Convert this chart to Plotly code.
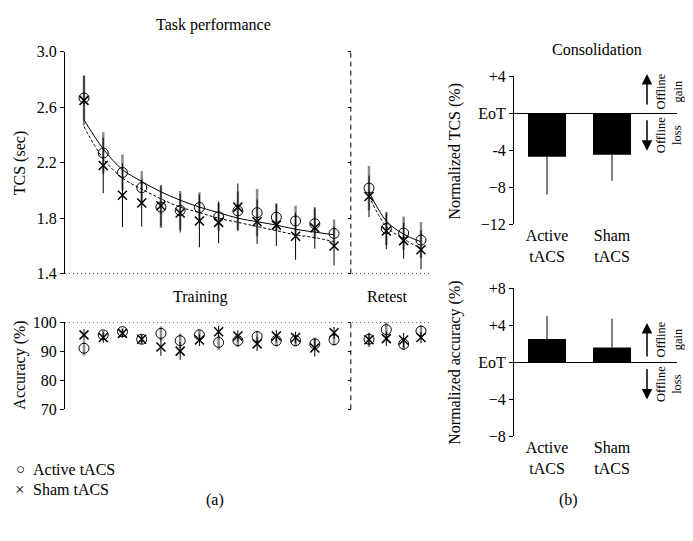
import plotly.graph_objects as go

W, H = 693, 541
OFF = 8  # page body margin: the figure is drawn 8 px right and down
def fx(p):
    return (p - OFF) / W
def fy(p):
    return 1 - (p - OFF) / H

FONT = "Liberation Serif"

# ---------------- data ----------------
train_blocks = list(range(1, 15))
retest_blocks = [1, 2, 3, 4]

tcs_active_train = [2.667, 2.27, 2.13, 2.02, 1.88, 1.856, 1.877, 1.81, 1.853, 1.84, 1.807, 1.78, 1.76, 1.69]
tcs_active_train_err = [0.16, 0.15, 0.13, 0.12, 0.15, 0.14, 0.11, 0.10, 0.14, 0.17, 0.10, 0.11, 0.11, 0.10]
tcs_sham_train = [2.65, 2.18, 1.965, 1.91, 1.89, 1.837, 1.78, 1.77, 1.88, 1.775, 1.75, 1.67, 1.73, 1.60]
tcs_sham_train_err = [0.18, 0.20, 0.23, 0.17, 0.15, 0.14, 0.19, 0.15, 0.17, 0.16, 0.15, 0.17, 0.15, 0.14]

fit_active_train = [2.51, 2.30, 2.15, 2.065, 1.99, 1.93, 1.88, 1.84, 1.80, 1.775, 1.75, 1.72, 1.70, 1.68]
fit_sham_train = [2.46, 2.23, 2.09, 2.01, 1.94, 1.88, 1.84, 1.80, 1.77, 1.74, 1.71, 1.68, 1.66, 1.63]

tcs_active_retest = [2.017, 1.726, 1.693, 1.642]
tcs_active_retest_err = [0.16, 0.12, 0.12, 0.13]
tcs_sham_retest = [1.957, 1.707, 1.638, 1.572]
tcs_sham_retest_err = [0.15, 0.13, 0.13, 0.14]
fit_active_retest = [1.99, 1.78, 1.685, 1.63]
fit_sham_retest = [1.96, 1.74, 1.65, 1.58]

acc_active_train = [91.0, 95.6, 96.7, 94.1, 96.1, 93.6, 95.6, 93.0, 93.6, 95.0, 93.6, 93.6, 92.5, 93.9]
acc_active_train_err = [2.5, 1.5, 1.2, 1.5, 2.5, 2.5, 1.8, 2.5, 2.2, 2.0, 2.0, 2.0, 2.2, 2.0]
acc_sham_train = [95.6, 94.7, 96.1, 94.1, 91.4, 90.0, 93.8, 96.7, 95.2, 92.5, 95.2, 94.7, 91.1, 96.3]
acc_sham_train_err = [2.0, 1.8, 1.5, 1.5, 3.0, 3.0, 2.0, 2.0, 2.0, 2.5, 2.0, 2.0, 3.0, 2.0]

acc_active_retest = [94.1, 97.4, 92.4, 96.9]
acc_active_retest_err = [2.0, 2.5, 2.0, 2.0]
acc_sham_retest = [93.9, 94.3, 93.8, 94.7]
acc_sham_retest_err = [2.5, 2.5, 2.5, 2.0]

groups = ["Active<br>tACS", "Sham<br>tACS"]
tcs_consol = [-4.7, -4.5]
tcs_consol_err = [4.1, 2.8]
acc_consol = [2.5, 1.6]
acc_consol_err = [2.5, 3.1]

tcs_ticks = [1.4, 1.8, 2.2, 2.6, 3.0]
acc_ticks = [70, 80, 90, 100]
consol_tcs_ticks = [4, 0, -4, -8, -12]
consol_tcs_ticktext = ["+4", "EoT", "-4", "\u22128", "\u221212"]
consol_acc_ticks = [8, 4, 0, -4, -8]
consol_acc_ticktext = ["+8", "+4", "EoT", "\u22124", "\u22128"]

# ---------------- figure ----------------
fig = go.Figure()

GRAY = "#8c8c8c"

def add_group(xa, ya, x, act, act_err, sham, sham_err, fit_a=None, fit_s=None):
    fig.add_trace(go.Scatter(
        x=x, y=act, xaxis=xa, yaxis=ya, mode="markers",
        marker=dict(symbol="circle-open", size=10, color="black", line=dict(width=1)),
        error_y=dict(type="data", array=act_err, color=GRAY, thickness=2.5, width=0),
        showlegend=False, cliponaxis=False))
    fig.add_trace(go.Scatter(
        x=x, y=sham, xaxis=xa, yaxis=ya, mode="markers",
        marker=dict(symbol="x-thin-open", size=9, color="black", line=dict(width=1.5, color="black")),
        error_y=dict(type="data", array=sham_err, color="black", thickness=1, width=0),
        showlegend=False, cliponaxis=False))
    if fit_a is not None:
        fig.add_trace(go.Scatter(
            x=x, y=fit_a, xaxis=xa, yaxis=ya, mode="lines",
            line=dict(color="black", width=1, shape="spline"), showlegend=False))
        fig.add_trace(go.Scatter(
            x=x, y=fit_s, xaxis=xa, yaxis=ya, mode="lines",
            line=dict(color="black", width=1, shape="spline", dash="3px,2px"), showlegend=False))

add_group("x", "y", train_blocks, tcs_active_train, tcs_active_train_err,
          tcs_sham_train, tcs_sham_train_err, fit_active_train, fit_sham_train)
add_group("x2", "y2", retest_blocks, tcs_active_retest, tcs_active_retest_err,
          tcs_sham_retest, tcs_sham_retest_err, fit_active_retest, fit_sham_retest)
add_group("x3", "y3", train_blocks, acc_active_train, acc_active_train_err,
          acc_sham_train, acc_sham_train_err)
add_group("x4", "y4", retest_blocks, acc_active_retest, acc_active_retest_err,
          acc_sham_retest, acc_sham_retest_err)

fig.add_trace(go.Bar(
    x=groups, y=tcs_consol, xaxis="x5", yaxis="y5", width=0.585,
    marker=dict(color="black", line=dict(width=0)),
    error_y=dict(type="data", symmetric=False, array=[0, 0], arrayminus=tcs_consol_err,
                 color="black", thickness=1, width=0),
    showlegend=False))
fig.add_trace(go.Bar(
    x=groups, y=acc_consol, xaxis="x6", yaxis="y6", width=0.585,
    marker=dict(color="black", line=dict(width=0)),
    error_y=dict(type="data", symmetric=False, array=acc_consol_err, arrayminus=[0, 0],
                 color="black", thickness=1, width=0),
    showlegend=False))

tickfont = dict(family=FONT, size=16, color="black")

hidden_x = dict(showline=False, showticklabels=False, ticks="", showgrid=False, zeroline=False)
train_range = [0.012, 14.57]
retest_range = [0.019, 4.52]

def yax(dom, rng, tickvals, ticktext=None, labels=True, line=True, anchor="x", ticklen=4):
    d = dict(domain=dom, range=rng, tickvals=tickvals, showgrid=False, zeroline=False,
             showline=line, linecolor="black", linewidth=1, ticks="outside", ticklen=ticklen,
             tickcolor="black", tickwidth=1, showticklabels=labels, tickfont=tickfont,
             anchor=anchor)
    if ticktext is not None:
        d["ticktext"] = ticktext
    return d

top_dom = [fy(274), fy(45)]
bot_dom = [fy(414), fy(324)]

fig.update_layout(
    width=W, height=H,
    margin=dict(l=0, r=0, t=0, b=0),
    paper_bgcolor="white", plot_bgcolor="white",
    font=dict(family=FONT, size=16, color="black"),
    barmode="group",
    xaxis=dict(domain=[fx(65), fx(345)], range=train_range, anchor="y", **hidden_x),
    yaxis=yax(top_dom, [1.4, 3.0], tcs_ticks, [f"{v:.1f}" for v in tcs_ticks], anchor="x"),
    xaxis2=dict(domain=[fx(352), fx(430)], range=retest_range, anchor="y2", **hidden_x),
    yaxis2=yax(top_dom, [1.4, 3.0], tcs_ticks, labels=False, line=False, anchor="x2", ticklen=3),
    xaxis3=dict(domain=[fx(65), fx(345)], range=train_range, anchor="y3", **hidden_x),
    yaxis3=yax(bot_dom, [70, 100], acc_ticks, [str(v) for v in acc_ticks], anchor="x3"),
    xaxis4=dict(domain=[fx(352), fx(430)], range=retest_range, anchor="y4", **hidden_x),
    yaxis4=yax(bot_dom, [70, 100], acc_ticks, labels=False, line=False, anchor="x4", ticklen=3),
    xaxis5=dict(domain=[fx(514), fx(677)], range=[-0.508, 2.0], anchor="y5",
                showline=False, ticks="", showgrid=False, zeroline=False, tickfont=tickfont),
    yaxis5=dict(yax([fy(223), fy(70)], [-12, 4], consol_tcs_ticks, consol_tcs_ticktext, anchor="x5"),
                zeroline=True, zerolinecolor="black", zerolinewidth=1),
    xaxis6=dict(domain=[fx(514), fx(677)], range=[-0.508, 2.0], anchor="y6",
                showline=False, ticks="", showgrid=False, zeroline=False, tickfont=tickfont),
    yaxis6=dict(yax([fy(442), fy(289)], [-8, 8], consol_acc_ticks, consol_acc_ticktext, anchor="x6"),
                zeroline=True, zerolinecolor="black", zerolinewidth=1),
)

# dotted reference lines and dashed separator
shapes = []
for xr, yr, yv in [("x domain", "y", 1.4), ("x2 domain", "y2", 1.4),
                   ("x3 domain", "y3", 100), ("x4 domain", "y4", 100)]:
    shapes.append(dict(type="line", xref=xr, yref=yr, x0=0, x1=1, y0=yv, y1=yv,
                       line=dict(color="black", width=1, dash="1px,3px"), layer="below"))
for yr in ["y2 domain", "y4 domain"]:
    shapes.append(dict(type="line", xref="x2 domain", yref=yr, x0=-0.015, x1=-0.015, y0=0, y1=1,
                       line=dict(color="black", width=1, dash="5px,4px")))
fig.update_layout(shapes=shapes)

ann = []
def text(x, y, s, size=16, angle=0, xanchor="center"):
    ann.append(dict(x=fx(x), y=fy(y), xref="paper", yref="paper", text=s, showarrow=False,
                    font=dict(family=FONT, size=size, color="black"), textangle=angle,
                    xanchor=xanchor, yanchor="middle"))

text(213, 17, "Task performance")
text(597, 43, "Consolidation")
text(200, 298, "Training")
text(387, 298, "Retest")
text(20, 160, "TCS (sec)", angle=-90)
text(20, 369, "Accuracy (%)", angle=-90)
text(455, 148, "Normalized TCS (%)", angle=-90)
text(455, 366, "Normalized accuracy (%)", angle=-90)
text(20, 476, "\u25cb", size=15)
text(31, 476, "Active tACS", size=16, xanchor="left")
text(20, 497, "\u00d7", size=17)
text(31, 497, "Sham tACS", size=16, xanchor="left")
text(215, 508, "(a)")
text(568, 508, "(b)")
for yc in [86, 342]:
    text(669, yc, "Offline<br>gain", size=12.5, angle=-90)
for yc in [131, 388]:
    text(669, yc, "Offline<br>loss", size=12.5, angle=-90)

# arrows (tip, tail)
for tip, tail in [(68, 100), (147, 115), (325, 360), (404, 372)]:
    ann.append(dict(x=fx(647), y=fy(tip), xref="paper", yref="paper", ax=0, ay=tail - tip,
                    axref="pixel", ayref="pixel", text="", showarrow=True,
                    arrowhead=2, arrowsize=1.4, arrowwidth=1.5, arrowcolor="black"))
fig.update_layout(annotations=ann)

fig.write_html("out.html")
